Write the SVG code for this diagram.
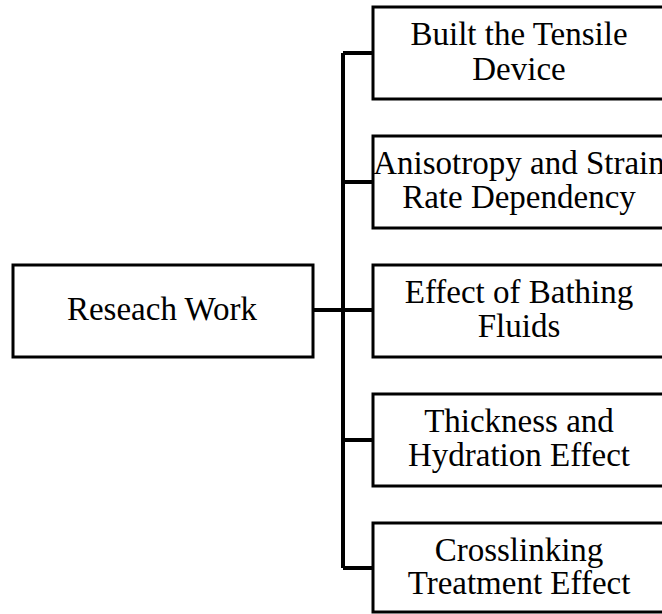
<svg xmlns="http://www.w3.org/2000/svg" width="662" height="614" viewBox="0 0 662 614">
<style>
.box{fill:#fff;stroke:#000;stroke-width:3}
.t{font-family:"Liberation Serif","Times New Roman",serif;font-size:33px;fill:#000;text-anchor:middle}
.c{fill:none;stroke:#000;stroke-width:4}
</style>
<rect width="662" height="614" fill="#fff"/>
<g id="connectors">
<path class="c" d="M313 310H373M343 53V568M343 53H373M343 182H373M343 440H373M343 568H373"/>
</g>
<g id="root"><rect class="box" x="13" y="265" width="300" height="92"/><text class="t" x="162" y="320">Reseach Work</text></g>
<g id="n1"><rect class="box" x="373" y="7" width="294" height="92"/><text class="t" x="519" y="45">Built the Tensile</text><text class="t" x="519" y="80">Device</text></g>
<g id="n2"><rect class="box" x="373" y="136" width="294" height="92"/><text class="t" x="519" y="174">Anisotropy and Strain</text><text class="t" x="519" y="208">Rate Dependency</text></g>
<g id="n3"><rect class="box" x="373" y="265" width="294" height="92"/><text class="t" x="519" y="303">Effect of Bathing</text><text class="t" x="519" y="337">Fluids</text></g>
<g id="n4"><rect class="box" x="373" y="394" width="294" height="92"/><text class="t" x="519" y="432">Thickness and</text><text class="t" x="519" y="466">Hydration Effect</text></g>
<g id="n5"><rect class="box" x="373" y="523" width="294" height="89"/><text class="t" x="519" y="561">Crosslinking</text><text class="t" x="519" y="594">Treatment Effect</text></g>
</svg>
